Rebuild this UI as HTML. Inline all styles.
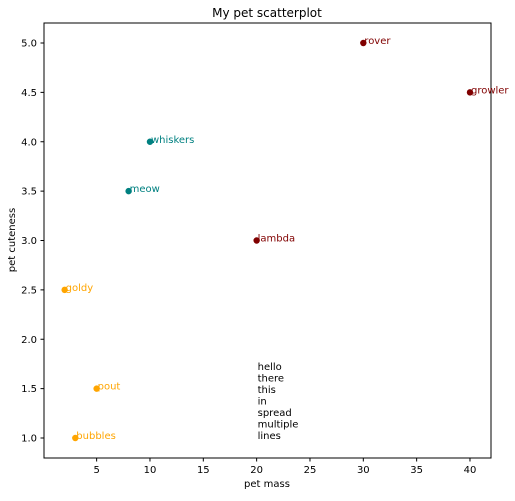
<!DOCTYPE html>
<html><head><meta charset="utf-8"><style>
body{margin:0;background:#fff;font-family:"Liberation Sans","DejaVu Sans",sans-serif;}
svg text{font-family:"DejaVu Sans","Liberation Sans",sans-serif;}
</style></head><body>
<svg id="chart" width="515" height="496" xmlns="http://www.w3.org/2000/svg">
<rect x="0" y="0" width="515" height="496" fill="#fff"/>
<rect x="44" y="23" width="447" height="435" fill="none" stroke="#000" stroke-width="1"/>
<text x="267" y="17" text-anchor="middle" font-size="12">My pet scatterplot</text>
<text x="267" y="487" text-anchor="middle" font-size="10">pet mass</text>
<text transform="translate(15,240) rotate(-90)" text-anchor="middle" font-size="10">pet cuteness</text>
<g id="ticks"></g>
<g id="marks"></g>
<g id="note"></g>
</svg>
<script>
const names=["rover","growler","whiskers","meow","lambda","goldy","pout","bubbles"];
const mass=[30,40,10,8,20,2,5,3];
const cuteness=[5,4.5,4,3.5,3,2.5,1.5,1];
const colors=["#800000","#800000","#008080","#008080","#800000","#ffa500","#ffa500","#ffa500"];
const xTicks=[5,10,15,20,25,30,35,40];
const yTicks=[1.0,1.5,2.0,2.5,3.0,3.5,4.0,4.5,5.0];
const noteLines=["hello","there","this","in","spread","multiple","lines"];
const noteX=20, noteY=1;
const NS="http://www.w3.org/2000/svg";
function sx(v){return 43.3+v*10.667;}
function sy(v){return 438-(v-1)*98.75;}
const tg=document.getElementById('ticks');
xTicks.forEach(t=>{
  const l=document.createElementNS(NS,'line');
  l.setAttribute('x1',sx(t));l.setAttribute('x2',sx(t));l.setAttribute('y1',458);l.setAttribute('y2',461.5);l.setAttribute('stroke','#000');
  
  
  tg.appendChild(l);
  const tx=document.createElementNS(NS,'text');
  tx.setAttribute('x',sx(t));tx.setAttribute('y',473);tx.setAttribute('text-anchor','middle');tx.setAttribute('font-size','10');
  tx.textContent=t;
  
  
  tg.appendChild(tx);
});
yTicks.forEach(t=>{
  const l=document.createElementNS(NS,'line');
  l.setAttribute('x1',40.5);l.setAttribute('x2',44);l.setAttribute('y1',sy(t));l.setAttribute('y2',sy(t));l.setAttribute('stroke','#000');
  
  
  tg.appendChild(l);
  const tx=document.createElementNS(NS,'text');
  tx.setAttribute('x',37);tx.setAttribute('y',sy(t)+3.5);tx.setAttribute('text-anchor','end');tx.setAttribute('font-size','10');
  tx.textContent=t.toFixed(1);
  
  
  tg.appendChild(tx);
});
const mg=document.getElementById('marks');
names.forEach((n,i)=>{
  const c=document.createElementNS(NS,'circle');
  c.setAttribute('cx',sx(mass[i]));c.setAttribute('cy',sy(cuteness[i]));c.setAttribute('r',3.2);c.setAttribute('fill',colors[i]);
  
  
  mg.appendChild(c);
  const t=document.createElementNS(NS,'text');
  t.setAttribute('x',sx(mass[i])+1);t.setAttribute('y',sy(cuteness[i])+1);t.setAttribute('font-size','10');t.setAttribute('fill',colors[i]);
  t.textContent=n;
  
  
  mg.appendChild(t);
});
const ng=document.getElementById('note');
noteLines.forEach((s,i)=>{
  const t=document.createElementNS(NS,'text');
  t.setAttribute('x',sx(noteX)+1);
  t.setAttribute('y',sy(noteY)+1-(noteLines.length-1-i)*11.5);
  t.setAttribute('font-size','10');
  t.textContent=s;
  
  
  ng.appendChild(t);
});
</script>
</body></html>
